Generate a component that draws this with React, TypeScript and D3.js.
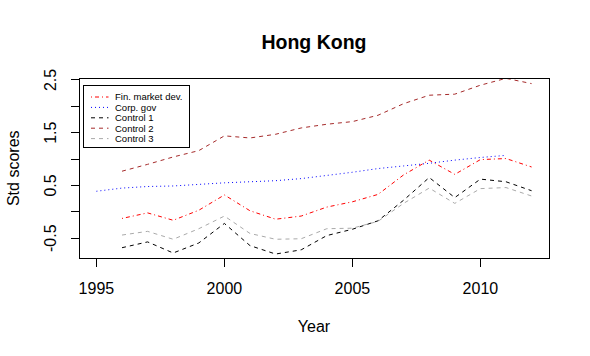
import React from "react";
import * as d3 from "d3";

const yearsA = [1996, 1997, 1998, 1999, 2000, 2001, 2002, 2003, 2004, 2005, 2006, 2007, 2008, 2009, 2010, 2011, 2012];
const yearsCorp = [1995, 1996, 1997, 1998, 1999, 2000, 2001, 2002, 2003, 2004, 2005, 2006, 2007, 2008, 2009, 2010, 2011];

const finDev = [-0.125, -0.02, -0.16, 0.03, 0.32, 0.02, -0.14, -0.08, 0.09, 0.19, 0.33, 0.7, 0.98, 0.71, 0.99, 1.01, 0.85];
const corpGov = [0.39, 0.45, 0.48, 0.49, 0.52, 0.55, 0.57, 0.59, 0.63, 0.69, 0.75, 0.82, 0.87, 0.92, 0.98, 1.03, 1.07];
const control1 = [-0.68, -0.57, -0.78, -0.59, -0.22, -0.64, -0.8, -0.72, -0.45, -0.33, -0.17, 0.22, 0.65, 0.27, 0.62, 0.57, 0.4];
const control2 = [0.77, 0.9, 1.04, 1.16, 1.44, 1.4, 1.47, 1.59, 1.66, 1.71, 1.83, 2.05, 2.21, 2.23, 2.4, 2.53, 2.43];
const control3 = [-0.44, -0.37, -0.52, -0.32, -0.08, -0.41, -0.52, -0.51, -0.32, -0.31, -0.18, 0.16, 0.45, 0.16, 0.44, 0.46, 0.3];

const xTicks = [1995, 2000, 2005, 2010];
const yTicks = [-0.5, 0, 0.5, 1, 1.5, 2, 2.5];
const yLabels = [-0.5, 0.5, 1.5, 2.5];

const seriesNames = ["Fin. market dev.", "Corp. gov", "Control 1", "Control 2", "Control 3"];
const seriesColors = ["#FF0000", "#0000FF", "#000000", "#A52A2A", "#A9A9A9"];
const seriesDash = ["1,3,4,3", "1,3", "4,4", "4,4", "4,4"];

const FONT = "'Liberation Sans', Arial, sans-serif";

export default function App() {
  const W = 590, H = 356;
  const left = 79, right = 549, top = 78.5, bottom = 258;
  const x = d3.scaleLinear().domain([1994.32, 2012.68]).range([left, right]);
  const y = d3.scaleLinear().domain([-0.875, 2.527]).range([bottom, top]);

  const series = [
    { years: yearsA, vals: finDev },
    { years: yearsCorp, vals: corpGov },
    { years: yearsA, vals: control1 },
    { years: yearsA, vals: control2 },
    { years: yearsA, vals: control3 },
  ];

  const line = d3.line<[number, number]>().x(d => x(d[0])).y(d => y(d[1]));

  const legX = 83.5, legY = 85.5, legW = 106, legH = 62, rowH = 10.4;

  return (
    <svg width={W} height={H} style={{ position: "fixed", left: 0, top: 0, background: "#fff" }} fontFamily={FONT}>
      <defs>
        <clipPath id="plotclip">
          <rect x={left} y={top} width={right - left} height={bottom - top} />
        </clipPath>
      </defs>
      <rect x={0} y={0} width={W} height={H} fill="#fff" />
      <text x={(left + right) / 2} y={49} textAnchor="middle" fontWeight="bold" fontSize={19.5}>Hong Kong</text>
      <text x={(left + right) / 2} y={332} textAnchor="middle" fontSize={16}>Year</text>
      <text transform={`translate(18.5,${(top + bottom) / 2}) rotate(-90)`} textAnchor="middle" fontSize={16}>Std scores</text>

      <g clipPath="url(#plotclip)">
        {series.map((s, i) => (
          <path key={i}
            d={line(s.years.map((yr, j) => [yr, s.vals[j]] as [number, number])) || ""}
            fill="none" stroke={seriesColors[i]} strokeWidth={1} strokeDasharray={seriesDash[i]} />
        ))}
      </g>

      <rect x={left} y={top} width={right - left} height={bottom - top} fill="none" stroke="#000" strokeWidth={1} shapeRendering="crispEdges" />

      {xTicks.map(t => (
        <g key={t}>
          <line x1={x(t)} x2={x(t)} y1={bottom} y2={bottom + 8.5} stroke="#000" shapeRendering="crispEdges" />
          <text x={x(t)} y={294} textAnchor="middle" fontSize={16}>{t}</text>
        </g>
      ))}
      {yTicks.map(t => (
        <line key={t} x1={left - 8.5} x2={left} y1={y(t)} y2={y(t)} stroke="#000" shapeRendering="crispEdges" />
      ))}
      {yLabels.map(t => (
        <text key={t} transform={`translate(56,${y(t)}) rotate(-90)`} textAnchor="middle" fontSize={16}>{t}</text>
      ))}

      <rect x={legX} y={legY} width={legW} height={legH} fill="#fff" stroke="#000" strokeWidth={1} shapeRendering="crispEdges" />
      {seriesNames.map((n, i) => {
        const yy = legY + 11.5 + i * rowH;
        return (
          <g key={n}>
            <line x1={91} x2={108.5} y1={yy} y2={yy} stroke={seriesColors[i]} strokeDasharray={seriesDash[i]} />
            <text x={115} y={yy + 3.4} fontSize={9.5}>{n}</text>
          </g>
        );
      })}
    </svg>
  );
}
